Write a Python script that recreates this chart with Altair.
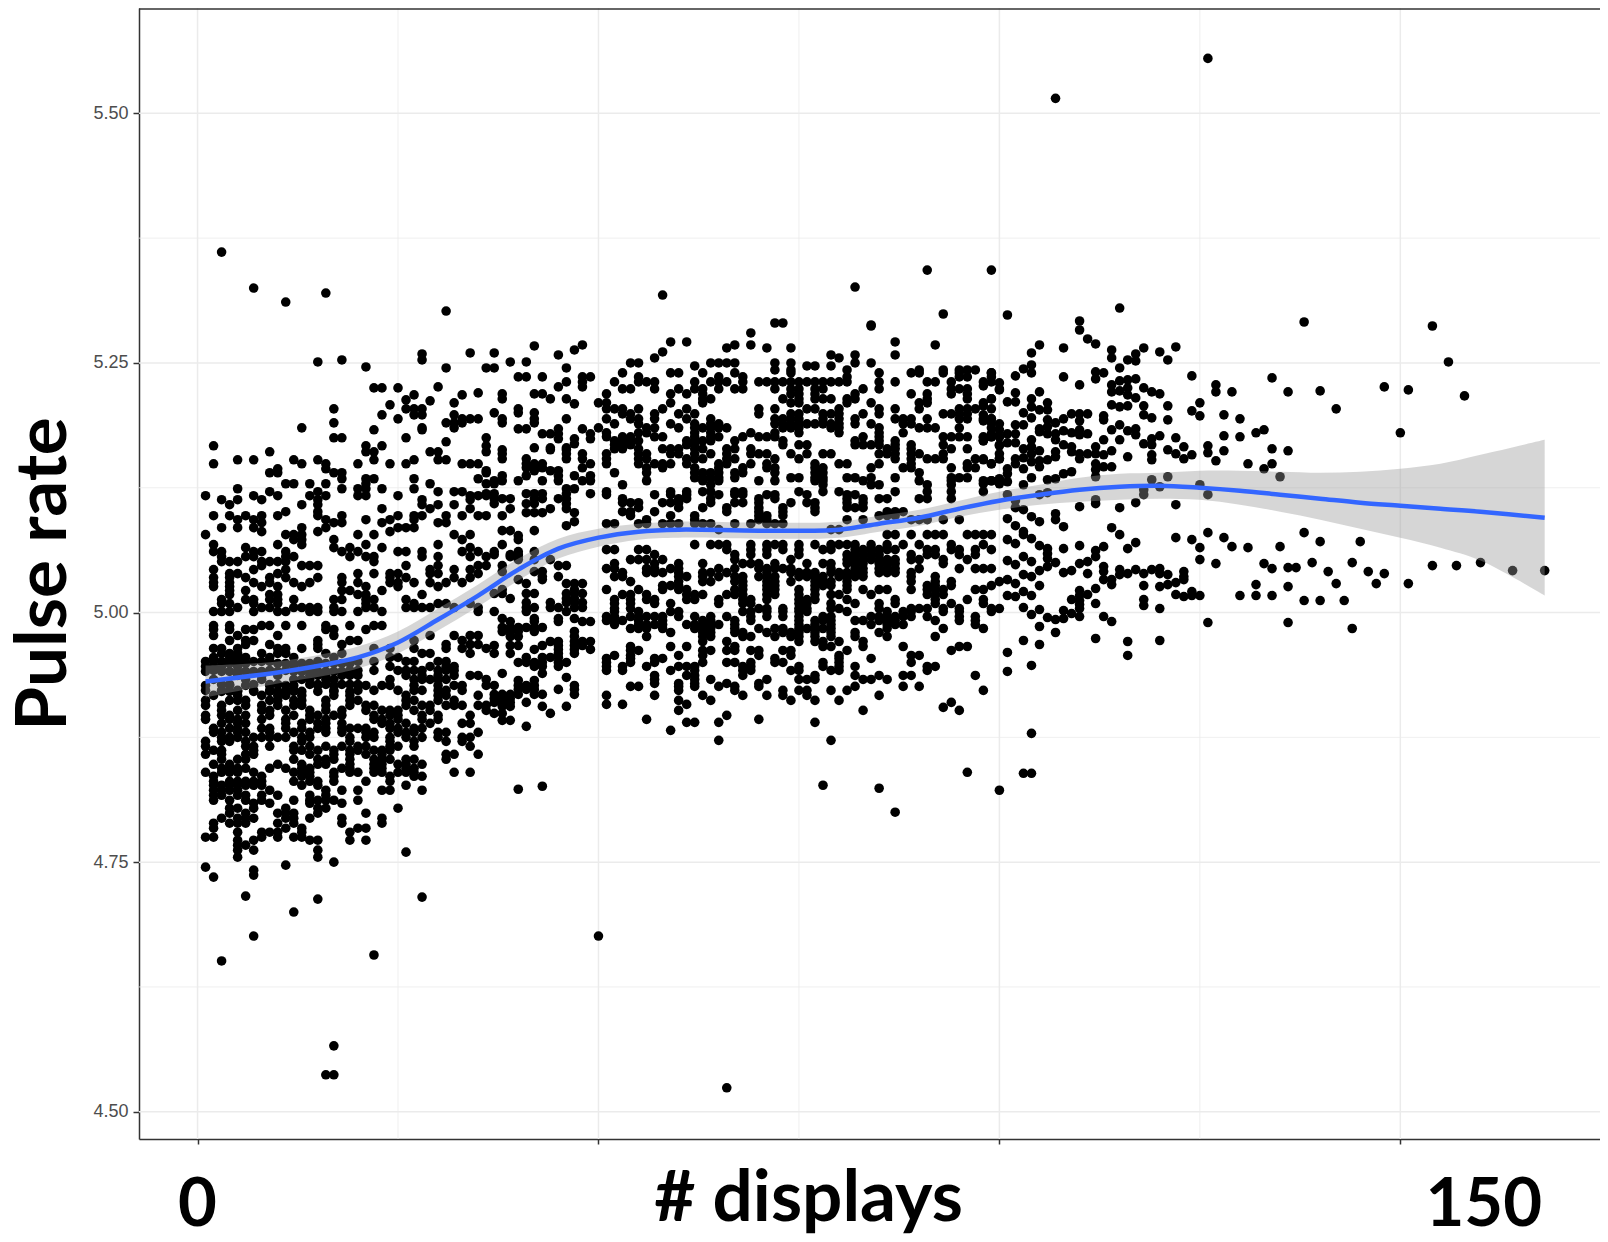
import altair as alt
import pandas as pd

# ---- Points read row by row: pulse rate, then the display counts on that row ----
rows_left_y = [5.204,5.198,5.194,5.190,5.185,5.183,5.175,5.171,5.167,5.161,5.153,5.149,5.144,5.140,5.134,5.129,5.124,5.121,5.117,5.113,5.108,5.104,5.101,5.097,5.093,5.090,5.085,5.081,5.078,5.073,5.068,5.065,5.061,5.056,5.051,5.047,5.043,5.039,5.035,5.030,5.026,5.022,5.018,5.013,5.009,5.005,5.001,
4.987,4.983,4.977,4.972,4.968,4.964,4.959,4.955,4.951,4.946,4.942,4.937,4.933,4.927,4.922,4.917,4.912,4.907,4.902,4.897,4.893,4.889,4.884,4.880,4.875,4.871,4.866,4.862,4.858,4.853,4.848,4.844,4.840,4.836,4.831,4.827,4.822,4.817,4.812,4.809,4.804,4.799,4.794,4.789,4.784,4.780,4.775,4.772,4.767,4.762,4.755,
4.949,4.941,4.928,4.921]
rows_left_x = [
[17,27,28,26],[23,27,28,32],[25,35,34,33],[17,31,32,33],[13,32,28],[22,28],[17,18,26,36],[31],[2,21,23,36],[9,21,22,29,30,36],
[5,7,12,15,22,27,30,31],[2,13,16,20,24,26,33,34,35],[10,16],[9,10,17,18,36],[18,21,22,27,35],[11,12,14,16,21,29,36],[5,18,20,21,23,27],[9,15,30,32,33],[1,7,10,14,16,20,21,25,34,35,36],[3,5,8,15,28,34],
[4,13,15,28,30,32],[23,29,34],[11,15],[2,4,6,8,10,15,18,25,27,28,31,33,35,36],[5,7,16,21,24,27],[8,17,18,23,30,31],[3,5,7,13,16,25,26,27],[8,15,24],[1,11,12,13,20,22,32,34],[12,13,17,33],
[2,10,13,21,30],[6,17,19,23,34],[2,3,7,8,11,18,20,25,26,28,33,35],[3,6,7,11,12,19,21,22,28,30,34,36],[3,4,5,9,8,10,11,22],[8,13,14,15,26,30,35,36],[2,7,11,29,32,34],[4,5,10,20,22,25,24,29,30,35],[2,4,6,9,11,15,18,24,26,32,34],[2,4,7,9,12,14,18,20,24,25,27,29,31,33],
[2,4,8,10,13,21,25,30],[6,4,18,19,23],[4,9,10,20,21,28],[3,6,7,9,10,12,17,18,21,22,26],[3,4,7,10,21,27,30,31,34],[5,8,9,12,13,14,15,17,21,22,26,27,28,29,32,35],[2,3,4,7,10,11,14,15,17,18,20,23,35],
[2,4,8,9,11,13,16,19,22,23],[2,4,6,7,16,17,21],[2,5,10,17,29,34,35,32],[4,6,7,15,20,19,27,33],[6,9,15,18,31,35,34],[2,3,5,10,11,15,13,22,24,27,31,33,36],[3,4,5,8,10,11,16,18,28,29,34],[2,4,5,6,9,12,17,24,25],[1,2,3,4,5,7,8,9,15,20,22,26,27,30,31],[1,2,3,5,12,24,29,31,32],
[2,9,11,19,20,22,25,26,27,28,30,31,32],[5,8,10,14,15,16,18,19,20,26,28,30,32,34,35],[2,6,8,12,13,14,16,17,24,27,28,29,30,31,36],[1,4,6,9,11,12,15,17,20,21,23,24,27,30,32,33,36],[1,3,5,7,9,11,12,17,20,22,25,27,28,30,31,33],[2,5,8,10,11,13,17,19,26,30,31,35],[1,4,5,6,9,10,12,13,16,20,19,26,27,30,32],[1,3,6,8,10,12,13,16,19,21,22,26,28,29,31,32,33,35,36],[3,5,8,9,11,14,16,18,21,23,24,25,27,29,36],
[1,3,4,6,9,12,14,15,17,18,22,24,25,28,30,34],[1,4,5,8,11,14,16,22,23,25,28,30],[3,5,6,11,13,15,16,18,23,24,26,29,33,34],[2,4,5,8,9,11,13,15,16,18,19,20,21,24,25,27,28],[2,3,5,6,9,12,14,16,18,21,22,25,26,27,30,31,35],[3,4,5,7,8,9,10,11,13,14,19,21,22,24,26,28,30,33,34],[1,3,4,6,13,19,24,27,31,33],[1,6,7,9,12,14,16,18,20,21,24,25,27,34],[2,3,7,12,13,15,17,19,20,22,23,24],[1,3,6,7,14,17,19,21,23,31,32,35],
[3,5,6,12,15,16,17,19,22,23,24,26,27,31],[2,4,10,13,15,16,19,22,23,25,26,28],[3,4,5,6,9,11,13,14,18,19,22,23,26,27],[1,3,4,5,7,12,13,14,17,19,20,22,23,25,26,27,32,34],[2,8,13,14,17,24,28,27],[2,4,5,6,7,8,12,14,15,17,21,24],[2,3,4,5,6,7,8,13,15,26],[2,3,4,5,9,16,18,20,23,24,28],[2,3,5,6,8,10,14,16],[2,4,6,8,12,14,15,16,17,20],[9,7,14,18],
[4,5,7,11,15,16,25],[4,6,10,11,12,15,21],[3,5,6,7,11,12,14,18,23],[2,4,5,6,10,12,18,23],[2,11,13,20,21],[5,8,9,10,13,19],[1,2,8,10,12,13],[5,7,14,15,19,21],[5,6],[5,7,15],[5,15],
[4,5,6,10,11,12,13,14,16,17,18,19],[1,3,4,5,6,7,8,10,12,13,14,15,16,17,18],[3,4,7,9,10,14,15,16,18,19,20],[3,4,5,7,9,10,12,13,15,17,19],
]

rows_gap_y = [5.251,5.245,5.236,5.231,5.226,5.219,5.214,5.209,5.204,5.200,5.194,5.190,5.184,5.179,5.174,5.169,5.165,5.163,5.159,5.154,5.149,5.145,5.142,5.137,5.132,5.129,5.124,5.119,5.114,5.109,5.104,5.100,5.097,5.091,5.087,5.082,5.077,5.073,5.068,5.061,5.056,
5.058,5.053,5.047,5.041,5.036,5.033,5.029,5.023,5.019,5.014,5.010,5.005,5.001,4.994,4.991,4.985,4.981,4.976,4.971,4.967,4.963,4.959,4.955,4.950,4.946,4.939,4.935,4.932,4.927,4.923,4.918,4.914,4.910,4.906,4.899,4.892,4.886]
rows_gap_x = [
[39,41],[37,46],[40,41,43,48,49],[46,48],[45,48],[42,43,38],[38,44,46],[47],[40],[40,42,37],[46,38,42],[38,42],[40,41,45,48],[43,44,45,49],[45,49,47],[47],[42,46,44],[38,44,46],[38,46,48],[38,41,46,48],[41,42,43,49],[41,42,43,48],[42,44,45,36],[41,45,47,38,49],[37,38,40,43,45,48,49],[37],[46,47],[41,42,43,49,46,37,36],[37,38,42,43,45,46,39],[37,41,42,46],[39,44,46],[41,42,43,47],[38],[47],[46],[38,39,42],[40],[40],[38],[37,40,42],[39,40],
[37,40,39],[40,42,44],[38,45,46],[42,43,38],[43,45],[40,43],[41,46,47,48],[47,38],[37,38,41,42,46,47,48],[39,46,47],[41,44,46,47,48],[41,42,44,45,47,48],[37,41,46],[38,42,45,47],[39,42,45,48,49],[38,39,40,41,42,43],[38,39,40,42,47],[39,40,47],[44,45,47,49,48],[37,39,40,43,45,47,48],[42,45,47,49],[37,39,45,47],[41,44,43,45],[40,41,42,43,45,46],[42,43,45],[38,43],[46],[40,42],[37,40,41,42,47],[40,41,42,45,47],[37,38,39,40,42,43,47],[37,38,39],[37,38,39,41],[38,39,43,46],[37,38,44],[38,39],[41],
]

rows_mid_y = [5.290,5.288,5.280,5.271,5.268,5.265,5.261,5.258,5.255,5.250,5.247,5.243,5.240,5.236,5.231,5.224,5.219,5.214,5.210,5.204,5.199,5.194,5.189,5.185,5.180,5.176,5.172,5.168,5.164,5.159,5.154,5.149,5.145,5.140,5.135,5.132,5.128,5.121,5.118,5.114,5.110,5.105,5.101,5.097,5.093,5.089,5.083,5.078,
5.068,5.063,5.058,5.053,5.049,5.044,5.040,5.036,5.031,5.027,5.023,5.018,5.013,5.009,5.004,5.001,4.996,4.992,4.988,4.984,4.980,4.976,4.971,4.966,4.962,4.957,4.954,4.950,4.946,4.942,4.937,4.933,4.929,4.926,4.922,4.917,4.912,4.908,4.902,4.897,4.893,4.890,4.882,4.872]
rows_mid_x = [
[72,73],[84],[69],[61,59,87],[67,69,92],[66,71,74],[58],[79,87,82],[57,80],[54,55,64,65,67,66,72,74,82,84],
[62,76,77,79],[72,74,81,90,93,95,96,97],[53,60,59,63,67,74,85,89,90,93,95,99],[65,55,68,81,96,95],[52,56,57,55,62,64,65,66,68,70,71,72,73,74,75,76,77,78,79,80,81,85,87,91,92,94,99,98],[53,54,57,60,62,63,65,67,68,72,74,75,77,78,83,85,94,96,95,100],[51,61,63,59,74,75,77,82,89,91,94,96],[63,64,73,75,78,79,77,81,82,91,99,96],[50,51,59,63,74,75,81,84,91,90,98],[51,52,53,55,58,61,70,72,76,77,80,85,87,90,95,96,97,99],
[53,54,57,60,62,70,74,75,78,79,80,83,85,93,94,96,95],[51,54,55,57,61,64,72,73,74,75,78,80,82,87,88,89,91,95,96,98,99],[52,55,59,62,65,64,72,73,74,75,76,77,78,79,80,82,84,88,89,100],[50,56,57,60,62,63,64,65,66,73,74,75,79,80,85,90,91,92,95,99],[51,55,56,62,64,69,72,75,80,85,88],[51,53,54,57,58,62,65,64,70,71,72,68,83,85,93,94,95,96,98,99,100],[52,53,54,55,61,62,63,64,67,73,82,87,85,98],[52,53,54,61,62,75,76,73,82,83,84,85,93,89,100,87],[52,53,55,58,59,60,62,63,66,67,69,86,87,94,96,89],[51,55,56,59,60,62,64,66,69,70,71,74,76,79,78,85,86,87,90,89,93],
[51,55,56,61,62,63,66,67,72,75,87,89,91,92,93,97,98,100],[51,55,57,58,59,61,65,66,69,71,77,80,81,85,89,96,99],[56,58,62,65,68,71,72,77,78,84,88,89,94,97,96],[56,52,62,63,64,65,67,68,72,77,78,90],[62,63,64,65,67,74,75,77,78,81,82,84,87,95,96,94],[56,63,65,72,70,77,78,83,90,94,98,99,100],[53,64,78,84,85,91,94],[51,59,61,63,64,67,68,80,75,78,87,91,94,98],[57,51,61,59,65,67,68,71,72,76,81,82],[53,64,61,60,70,72,86,85,81,83,90,91,94],
[53,54,55,58,59,60,64,67,68,70,74,76,77,81,83],[55,60,63,66,73,81,82,83,77,70],[53,54,57,66,70,73,77,86,87,88],[54,59,62,70,71,73,85,86,87],[56,62,70,71,81,83,89,90,91,93,95],[51,52,55,56,58,59,60,62,63,64,67,69,71,72,73],[65,79,80],[86,87,89,91,92,93,96,97,98,99],
[62,64,65,66,69,71,72,73,75,77,79,80,81,82,84,86,88,90,94,98],[51,52,55,56,66,69,71,73,75,78,79,82,83,84,85,86,87,91,92,94,95,97,99],[57,67,69,71,75,81,82,83,84,85,89,91,92,95,97],[54,55,56,58,67,74,81,82,83,84,85,86,87,90,89,93,96],[52,57,60,63,68,69,70,72,76,78,79,81,82,83,86,87,85,93],[51,52,56,57,59,60,65,67,70,71,72,73,74,82,83,85,86,87,90,95,97,98,99,79],[53,56,57,58,60,63,64,66,71,74,75,76,77,79,80,81,82,83,85,86,87,89],[52,53,60,61,63,65,67,68,70,71,72,75,76,77,78,80,81,82,83,89,92],[54,60,63,64,67,68,71,72,74,77,79,78,81,94,92,89,100],[58,59,60,68,71,72,77,78,79,81,91,92,94,99],
[51,55,58,60,61,67,68,71,72,75,77,81,83,85,86,89,91,92,93,97,98],[53,54,56,61,62,63,66,67,68,71,72,75,77,79,80,84,91,92,93],[52,54,56,57,61,62,65,68,69,71,75,76,77,81,92,87,96,98],[52,54,57,59,65,68,69,75,76,79,82,85,94,87,98,92],[52,54,70,71,73,75,76,79,80,85,89,90,91,93,95,100,99],[52,55,59,60,68,69,71,73,75,76,81,86,88,89,93,95,99],[51,52,54,55,56,57,58,60,62,64,66,69,71,73,75,78,79,84,85,86,87,88,89,91,95,97],[51,52,53,55,58,63,64,67,69,75,77,78,79,82,83,85,86,87,92,95,97],[52,55,56,57,58,61,62,63,64,65,67,75,77,79,84,86,87,88,97],[54,55,56,58,62,63,64,67,70,72,73,75,76,77,78,79,86,93,98],
[59,63,64,67,68,71,73,74,75,77,79,82,85],[56,63,64,68,69,72,74,75,77,79,82,86,92],[63,66,75,77,78,80,83],[59,61,54,67,78,79,83,88,95,96],[54,55,63,64,66,67,69,70,73,74,81,94],[52,54,60,63,70,74,80,89,90],[51,54,57,58,72,84,80],[51,54,57,63,66,67,69,73,72,80,89,78],[51,53,56,60,61,62,68,69,75,78,80,82,92,91],[51,53,59,62,68,69,74,79,80,91,75],
[57,61,62,68,77,82,85,88,89,97],[64,57,62,71,75,76,77,83,84,86],[57,60,70,66,62],[54,55,60,62,65,67,70,82,88,90],[60,67,73,75,76,79,81,98],[51,57,63,68,71,73,76,85],[64,60,74,77,80],[51,53,61],[60,83,95],[66],[56,70],[61,62,65,77],[59],[65,79],
]

# Upper part, display counts 98 to 130
upper_x = [101,115,110,110,111,112,105,104,108,114,114,118,120,121,122,117,117,116,115,103,104,104,99,99,102,108,112,112,113,110,100,100,98,124,127,127,129,117,116,116,116,115,115,114,114,118,119,120,117,102,102,105,99,101,104,104,98,106,106,105,114,115,116,118,118,121,121,119,125,125,124,128,130,103,104,98,98,99,99,109,110,110,111,108,107,106,106,106,105,105,103,102,102,113,113,115,114,116,117,117,108,109,110,110,111,107,107,100,100,99,99,101,98,98,128,130,122,120,119,119,118,113,115,104,104,104,101,102,100,100,100,103,108,109,109,105,107,107,110,110,111,112,112,113,114,116,119,119,121,122,123,123,124,126,126,128,127,98,99,102,102,103,103,104,105,105,106,101,101,101,104,100,100,99,98,106,107,108,109,112,112,112,113,114]
upper_y = [5.298,5.305,5.292,5.283,5.274,5.269,5.268,5.260,5.265,5.263,5.255,5.265,5.261,5.253,5.266,5.259,5.252,5.253,5.245,5.244,5.248,5.240,5.240,5.236,5.237,5.236,5.241,5.234,5.240,5.228,5.230,5.223,5.227,5.237,5.228,5.221,5.221,5.234,5.233,5.225,5.218,5.232,5.222,5.228,5.221,5.225,5.221,5.219,5.215,5.220,5.211,5.221,5.214,5.211,5.214,5.206,5.207,5.210,5.203,5.203,5.208,5.206,5.207,5.207,5.198,5.207,5.193,5.195,5.210,5.197,5.202,5.198,5.194,5.200,5.195,5.198,5.192,5.194,5.190,5.199,5.199,5.192,5.199,5.194,5.190,5.193,5.186,5.179,5.184,5.181,5.188,5.188,5.179,5.197,5.193,5.188,5.183,5.182,5.184,5.178,5.182,5.180,5.183,5.178,5.179,5.179,5.173,5.183,5.176,5.179,5.176,5.179,5.175,5.172,5.177,5.176,5.175,5.177,5.174,5.168,5.169,5.173,5.173,5.173,5.166,5.159,5.170,5.170,5.167,5.159,5.154,5.164,5.168,5.166,5.161,5.162,5.161,5.156,5.159,5.154,5.159,5.166,5.159,5.158,5.162,5.156,5.158,5.153,5.163,5.159,5.166,5.154,5.158,5.167,5.160,5.162,5.152,5.153,5.149,5.154,5.149,5.155,5.144,5.151,5.152,5.146,5.153,5.144,5.139,5.131,5.135,5.134,5.129,5.132,5.129,5.133,5.134,5.139,5.141,5.149,5.143,5.136,5.146,5.146]

# Lone points and the far right of the cloud
lone_x = [107,126,3,7,11,16,31,58,82,84,91,93,99,138,154,156,158,151,148,150,142,140,134,136,
          15,18,21,22,23,25,28,28,31,34,26,27,29,30,33,35,24,36,32,37,42,47,48,45,
          1,2,3,6,7,7,7,11,12,15,16,17,17,17,22,28,26,40,43,
          50,66,78,85,87,96,100,103,104,104,94,93,101,
          131,134,135,136,133,133,134,132,
          121,119,120,125,126,118,118,122,117,115,112,112,110,
          126,128,122,124,125,129,131,135,138,140,145,
          125,127,133,134,136,137,139,141,144,146,148,154,157,160,164,168,
          142,147,151,132,136,130,132,134,138,140,143,126,136,144,
          125,124,124,123,122,123,123,123,122,121,121,120,120,120,119,118,118,117,
          118,118,120,116,115,115,114,114,113,113,113,112,111,111,112,
          110,110,110,110,110,110,109,109,108,108,107,106,113,114,107,112,116,116,120,
          110,108,113,112,116,117,114,115,112,111,110,109,108,107,106,106,106,106,
          107,107,108,103,102,106,
          101,101,101,101,101,101,101,102,102,102,102,102,102,103,103,103,103,103,103,103,103,104,104,104,104,104,104,104,105,105,105,105,105,105,105,105]
lone_y = [5.515,5.555,5.361,5.325,5.311,5.320,5.302,5.318,5.326,5.287,5.343,5.299,5.343,5.291,5.287,5.251,5.217,5.223,5.226,5.180,5.204,5.222,5.235,5.221,
          5.251,5.253,5.246,5.225,5.225,5.225,5.259,5.253,5.245,5.260,5.213,5.218,5.212,5.226,5.218,5.220,5.208,5.245,5.210,5.260,5.267,5.263,5.268,5.258,
          4.745,4.735,4.651,4.716,4.676,4.737,4.742,4.747,4.700,4.713,4.537,4.537,4.566,4.750,4.657,4.715,4.760,4.823,4.826,
          4.676,4.524,4.827,4.824,4.800,4.840,4.822,4.839,4.839,4.879,4.910,4.905,4.941,
          5.149,5.164,5.136,5.162,5.183,5.144,5.149,5.180,
          5.136,5.133,5.126,5.128,5.118,5.123,5.118,5.108,5.110,5.105,5.113,5.109,5.106,
          5.080,5.075,5.075,5.073,5.065,5.066,5.065,5.066,5.080,5.071,5.071,
          5.053,5.049,5.049,5.044,5.045,5.045,5.050,5.041,5.050,5.041,5.039,5.047,5.047,5.050,5.042,5.042,
          5.029,5.029,5.029,5.028,5.026,5.017,5.017,5.017,5.012,5.012,5.012,4.990,4.990,4.984,
          5.017,5.021,5.017,5.016,5.018,5.041,5.036,5.033,5.030,5.038,5.028,5.044,5.039,5.026,5.043,5.039,5.027,5.043,
          5.013,5.007,5.004,5.039,5.043,5.038,5.033,5.028,5.046,5.041,5.033,5.024,5.039,5.018,5.009,
          5.022,5.017,5.012,5.008,5.004,4.996,5.013,4.999,5.002,4.994,4.993,4.995,4.996,4.991,4.980,4.974,4.971,4.957,4.972,
          5.067,5.064,5.066,5.062,5.064,5.070,5.085,5.078,5.056,5.051,5.049,5.042,5.040,5.050,5.064,5.059,5.054,5.046,
          5.099,5.093,5.086,5.078,5.105,5.120,
          5.017,5.033,5.052,5.073,5.094,5.118,4.960,5.016,5.029,5.048,5.069,5.087,5.112,4.972,5.021,5.038,5.056,5.081,5.103,5.128,5.005,4.947,4.998,5.017,5.036,5.051,5.074,5.096,4.968,4.986,5.003,5.027,5.042,5.067,5.091,5.118]

# Fitted curve and its confidence band
fit_x = [1,10,16,20,25,30,35,40,45,50,55,60,70,80,85,90,95,100,105,110,115,120,125,130,135,140,145,150,155,160,168]
fit_y = [4.931,4.940,4.948,4.955,4.970,4.993,5.017,5.043,5.064,5.075,5.081,5.083,5.082,5.083,5.089,5.095,5.104,5.112,5.118,5.123,5.126,5.127,5.125,5.122,5.118,5.114,5.110,5.107,5.104,5.101,5.095]
fit_lo = [4.915,4.929,4.937,4.944,4.959,4.982,5.006,5.032,5.054,5.066,5.073,5.075,5.074,5.075,5.081,5.087,5.096,5.103,5.108,5.111,5.113,5.114,5.113,5.108,5.101,5.093,5.084,5.075,5.065,5.052,5.017]
fit_hi = [4.947,4.951,4.959,4.966,4.981,5.004,5.028,5.054,5.074,5.084,5.089,5.091,5.090,5.091,5.097,5.103,5.112,5.121,5.128,5.135,5.139,5.140,5.142,5.142,5.141,5.140,5.141,5.144,5.149,5.158,5.173]

x_major = [0,50,100,150]
x_minor = [25,75,125,175]
y_major = [4.5,4.75,5.0,5.25,5.5]
y_minor = [4.625,4.875,5.125,5.375]

digit_text = ["0","150"]
digit_x = [0,160.4]
digit_y = [4.3855,4.3855]
xlab_text = ["# displays"]
xlab_x = [76.2]
xlab_y = [4.3905]
ylab_text = ["Pulse rate"]
ylab_x = [-16.4]
ylab_y = [5.0386]

X_DOM = [-7.3,174.9]
Y_DOM = [4.4727,5.6055]
top_edge = [5.6045]

xs, ys = [], []
for ry, rx in zip(rows_left_y + rows_gap_y + rows_mid_y, rows_left_x + rows_gap_x + rows_mid_x):
    for cx in rx:
        xs.append(cx)
        ys.append(ry)
xs += upper_x + lone_x
ys += upper_y + lone_y
pts = pd.DataFrame({"x":xs,"y":ys})
fit = pd.DataFrame({"x":fit_x,"y":fit_y,"lo":fit_lo,"hi":fit_hi})

xs_scale = alt.Scale(domain=X_DOM, nice=False, zero=False)
ys_scale = alt.Scale(domain=Y_DOM, nice=False, zero=False)
x_axis = alt.Axis(values=x_major, labels=False, title=None, grid=False,
        tickSize=5, tickWidth=1.5, tickColor="#333333", domainColor="#333333", domainWidth=1.5)
y_axis = alt.Axis(values=y_major, format=".2f", title=None, grid=False,
        labelFontSize=18, labelColor="#4d4d4d", labelFont="Liberation Sans", labelPadding=5,
        tickSize=6, tickWidth=1.5, tickColor="#333333", domainColor="#333333", domainWidth=1.5)
X = lambda f: alt.X(f, type="quantitative", scale=xs_scale, axis=x_axis)
Y = lambda f: alt.Y(f, type="quantitative", scale=ys_scale, axis=y_axis)

def vrules(vals, w):
    return alt.Chart(pd.DataFrame({"x":vals})).mark_rule(color="#ebebeb", strokeWidth=w).encode(x=X("x"))
def hrules(vals, w):
    return alt.Chart(pd.DataFrame({"y":vals})).mark_rule(color="#ebebeb", strokeWidth=w).encode(y=Y("y"))

points = alt.Chart(pts).mark_circle(size=92, color="black", opacity=1).encode(x=X("x"), y=Y("y"))
band = alt.Chart(fit).mark_area(color="#999999", opacity=0.4, interpolate="catmull-rom").encode(x=X("x"), y=Y("lo"), y2="hi")
line = alt.Chart(fit).mark_line(color="#3366FF", strokeWidth=4.5, interpolate="catmull-rom").encode(x=X("x"), y=Y("y"))
top = alt.Chart(pd.DataFrame({"y":top_edge})).mark_rule(color="#333333", strokeWidth=1.5).encode(y=Y("y"))

def big_text(t, x, y, size, **kw):
    return alt.Chart(pd.DataFrame({"t":t,"x":x,"y":y})).mark_text(
        font="Lato", fontWeight="bold", fontSize=size, color="black", align="center", baseline="alphabetic", **kw
    ).encode(x=X("x"), y=Y("y"), text="t:N")

chart = alt.layer(
    vrules(x_minor,0.8), hrules(y_minor,0.8), vrules(x_major,1.5), hrules(y_major,1.5),
    points, band, line, top,
    big_text(digit_text, digit_x, digit_y, 67),
    big_text(xlab_text, xlab_x, xlab_y, 71),
    big_text(ylab_text, ylab_x, ylab_y, 71, angle=270),
).properties(
    width=1461, height=1131,
    autosize=alt.AutoSizeParams(type="none"),
    padding={"left":131,"top":0,"right":0,"bottom":95},
).configure_view(stroke=None)

chart.save("out.html", embed_options={"renderer":"svg","actions":False})
